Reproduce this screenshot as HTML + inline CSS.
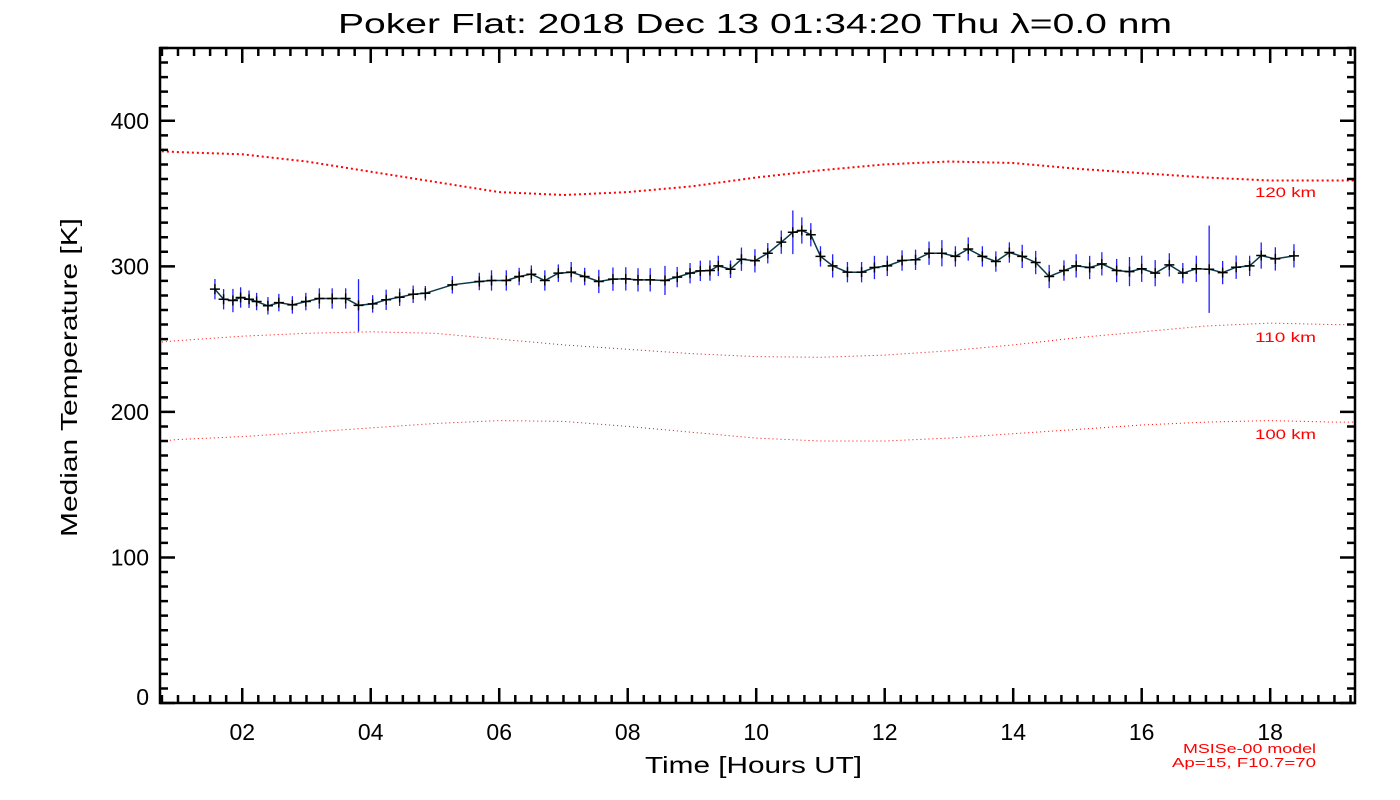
<!DOCTYPE html>
<html><head><meta charset="utf-8"><style>
html,body{margin:0;padding:0;background:#fff;}
svg{display:block;font-family:"Liberation Sans","DejaVu Sans",sans-serif;}
</style></head><body>
<svg id="chart" width="1400" height="800" viewBox="0 0 1400 800" xmlns="http://www.w3.org/2000/svg">
<text x="338" y="33" font-size="28" textLength="834" lengthAdjust="spacingAndGlyphs">Poker Flat: 2018 Dec 13 01:34:20 Thu λ=0.0 nm</text>
<text transform="translate(77,537) rotate(-90)" font-size="23" textLength="319" lengthAdjust="spacingAndGlyphs">Median Temperature [K]</text>
<text x="645" y="773" font-size="23" textLength="217" lengthAdjust="spacingAndGlyphs">Time [Hours UT]</text>
<text x="1183" y="753" font-size="13" fill="#f00" textLength="133" lengthAdjust="spacingAndGlyphs">MSISe-00 model</text>
<text x="1172" y="767" font-size="13" fill="#f00" textLength="144" lengthAdjust="spacingAndGlyphs">Ap=15, F10.7=70</text>
<g id="layer"></g>
</svg>
<script>
const hours=[1.575,1.71,1.855,1.975,2.106,2.224,2.40,2.57,2.78,2.99,3.20,3.40,3.61,3.81,4.03,4.24,4.45,4.66,4.85,5.27,5.69,5.88,6.11,6.31,6.50,6.71,6.92,7.12,7.33,7.55,7.77,7.97,8.16,8.35,8.58,8.77,8.97,9.13,9.28,9.41,9.60,9.77,9.98,10.18,10.39,10.57,10.71,10.85,11.00,11.19,11.42,11.64,11.84,12.04,12.27,12.48,12.69,12.89,13.10,13.30,13.52,13.73,13.94,14.14,14.35,14.56,14.79,14.98,15.19,15.38,15.61,15.81,16.00,16.21,16.43,16.64,16.85,17.05,17.26,17.47,17.68,17.86,18.08,18.37];
const temps=[284.3,277.4,276.5,278.6,277.4,275.8,272.9,275.1,273.5,275.8,277.9,277.9,277.9,273.2,274.2,277.0,278.8,280.8,281.5,287.3,289.6,290.3,290.3,293.0,294.6,290.3,295.3,296.0,293.0,289.6,291.2,291.4,290.7,290.7,290.3,292.6,295.3,296.9,297.1,300.3,298.0,304.9,303.8,309.0,316.6,323.4,324.6,321.7,306.8,300.3,296.0,296.0,299.2,300.3,304.0,304.5,309.0,309.0,306.8,311.9,306.8,303.3,309.5,306.8,302.6,293.0,297.1,300.3,299.2,301.7,297.1,296.4,298.3,295.3,301.0,295.3,298.3,298.0,295.7,299.4,300.3,307.4,305.1,307.2];
const errs=[7,7,8,7,6,6,6,6,6,6,7,7,7,18,6,7,6,6,5,6,6,7,7,6,6,7,6,7,6,8,8,8,8,8,10,7,7,7,7,7,6,8,8,7,8,15,9,8,7,8,7,7,8,7,7,7,8,9,7,8,7,7,7,8,8,8,7,8,8,8,8,10,9,9,8,7,9,30,8,8,7,9,8,8];
const modelHours=[0.75,1,2,3,4,5,6,7,8,9,10,11,12,13,14,15,16,17,18,19,19.3];
const model120=[379,378.5,377,372,365,358,351,349,351,355,361,366,370,372,371,367,364,361,359,359,359];
const model110=[248,249,252,254,255,254,250,246,243,240,238,237.5,239,242,246,251,255,259,261,260,260];
const model100=[180,181,183,186,189,192,194,193.5,190,186,182,180,180,182,185,188,191,193,194,193,193];
const xTickLabels=["02","04","06","08","10","12","14","16","18"];
const yTickLabels=["0","100","200","300","400"];

const L=160,R=1355,T=48,B=703,xMin=0.72,xMax=19.32,yMin=0,yMax=450;
const X=h=>L+(h-xMin)/(xMax-xMin)*(R-L);
const Y=v=>B-(v-yMin)/(yMax-yMin)*(B-T);
const NS="http://www.w3.org/2000/svg";
const layer=document.getElementById('layer');
function mk(tag,attrs,parent){const e=document.createElementNS(NS,tag);for(const k in attrs)e.setAttribute(k,attrs[k]);(parent||layer).appendChild(e);return e;}

const models=[[model120,"120 km",2,"2 3",197],[model110,"110 km",1,"1 3",342],[model100,"100 km",1,"1 3",439]];
models.forEach((m,i)=>{
  const d=modelHours.map((h,j)=>(j?'L':'M')+X(h).toFixed(1)+' '+Y(m[0][j]).toFixed(1)).join(' ');
  const p=mk('path',{d:d,fill:'none',stroke:'#f00','stroke-width':m[2],'stroke-dasharray':m[3]});
  
  
  const t=mk('text',{x:1255,y:m[4],'font-size':14,fill:'#f00',textLength:61,lengthAdjust:'spacingAndGlyphs'});
  t.textContent=m[1];
  
  
});

hours.forEach((h,i)=>{
  const e=mk('line',{x1:X(h),x2:X(h),y1:Y(temps[i]+errs[i]),y2:Y(temps[i]-errs[i]),stroke:'#2020ff','stroke-width':1.3});
  
  
});
const ld=hours.map((h,i)=>(i?'L':'M')+X(h).toFixed(1)+' '+Y(temps[i]).toFixed(1)).join(' ');
const ln=mk('path',{d:ld,fill:'none',stroke:'#0a3a4a','stroke-width':1.5});


hours.forEach((h,i)=>{
  const x=X(h),y=Y(temps[i]);
  const g=mk('path',{d:`M${x-5} ${y}H${x+5}M${x} ${y-5}V${y+5}`,stroke:'#000','stroke-width':1.5});
  
  
});

const fr=mk('rect',{x:L,y:T,width:R-L,height:B-T,fill:'none',stroke:'#000','stroke-width':2.5});


let td='';
for(let h=0.75;h<=xMax+0.001;h+=0.25){
  const x=X(h);const maj=Math.abs(h/2-Math.round(h/2))<0.01;const len=maj?15:8;
  td+=`M${x} ${B}V${B-len}M${x} ${T}V${T+len}`;
}
for(let v=0;v<=450;v+=10){
  const y=Y(v);const maj=v%100===0;const len=maj?15:8;
  td+=`M${L} ${y}H${L+len}M${R} ${y}H${R-len}`;
}
const tk=mk('path',{d:td,stroke:'#000','stroke-width':2.5});


xTickLabels.forEach(s=>{
  const t=mk('text',{x:X(parseFloat(s)),y:B+37,'font-size':23,'text-anchor':'middle'});
  t.textContent=s;
  
  
});
yTickLabels.forEach(s=>{
  const v=parseFloat(s);
  const t=mk('text',{x:149,y:Y(v)+(v===0?2:8),'font-size':23,'text-anchor':'end'});
  t.textContent=s;
  
  
});
</script>
</body></html>
